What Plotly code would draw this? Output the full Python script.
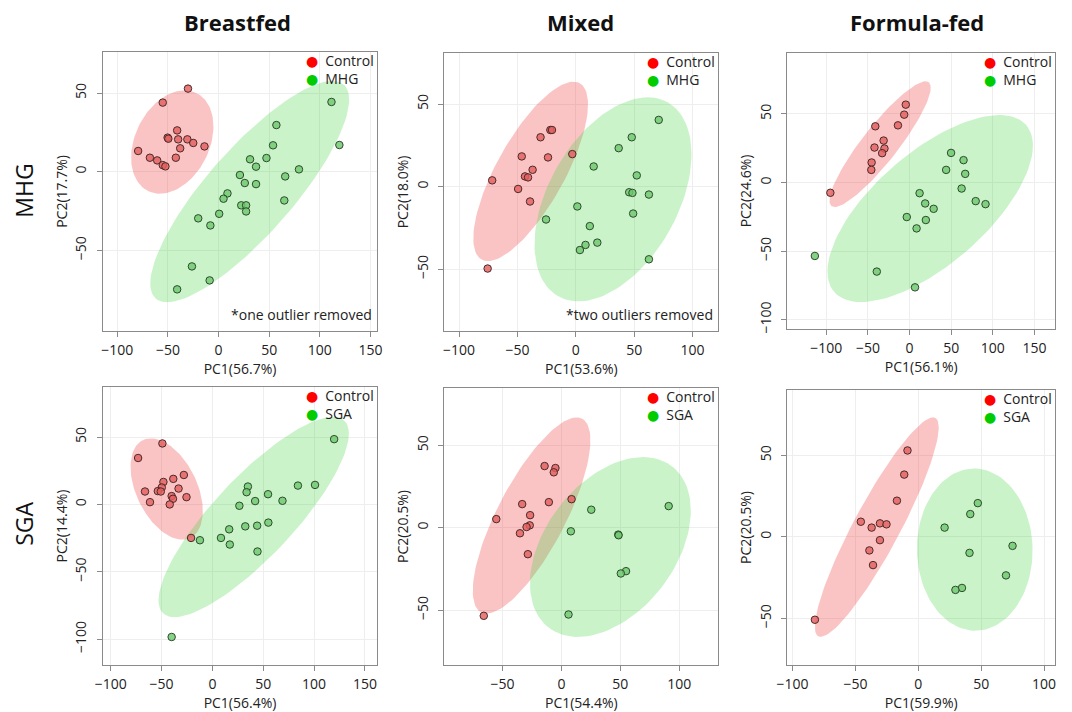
import numpy as np
import plotly.graph_objects as go

# ---------------- data (PC1, PC2 scores) ----------------
bf_mhg_ctrl_x = [-30.2, -55.1, -40.9, -50.3, -49.6, -39.9, -30.8, -25.0, -37.9, -13.9, -79.4, -67.8, -60.6, -42.2, -55.1, -52.5]
bf_mhg_ctrl_y = [52.9, 44.0, 26.3, 21.7, 21.0, 20.6, 20.6, 18.3, 14.9, 16.1, 13.2, 8.9, 7.2, 8.9, 4.2, 3.4]
bf_mhg_case_x = [111.5, 57.1, 119.3, 53.8, 31.1, 47.3, 37.0, 79.4, 21.1, 65.8, 25.9, 37.0, 8.8, 4.9, 64.9, 22.4, 27.2, 27.2, 0.6, -20.1, -8.1, -26.3, -8.8, -40.9]
bf_mhg_case_y = [44.4, 29.7, 17.0, 16.8, 7.9, 8.7, 3.2, 1.5, -2.1, -3.0, -7.2, -7.9, -13.8, -17.2, -18.3, -21.4, -21.4, -25.3, -26.8, -29.7, -34.2, -60.3, -69.2, -74.9]

mx_mhg_ctrl_x = [-21.8, -20.4, -30.2, -46.3, -23.8, -3.0, -37.0, -43.5, -40.9, -71.6, -49.4, -39.2, -75.5]
mx_mhg_ctrl_y = [34.3, 34.3, 29.9, 18.3, 17.7, 19.7, 10.2, 6.2, 5.6, 3.8, -1.4, -9.0, -49.6]
mx_mhg_case_x = [71.0, 47.9, 36.7, 15.3, 52.2, 45.7, 48.5, 62.6, 1.3, 49.1, -25.5, 12.0, 18.4, 8.3, 3.5, 62.6]
mx_mhg_case_y = [40.4, 29.9, 23.3, 12.2, 6.8, -3.4, -3.8, -4.8, -12.0, -16.3, -19.9, -23.9, -33.9, -35.3, -38.4, -44.0]

ff_mhg_ctrl_x = [-4.6, -6.5, -41.2, -14.0, -31.2, -42.2, -30.2, -33.0, -45.6, -46.0, -95.2]
ff_mhg_ctrl_y = [56.8, 49.5, 41.0, 41.7, 30.6, 25.5, 24.8, 21.4, 14.6, 9.2, -7.5]
ff_mhg_case_x = [49.8, 64.8, 43.9, 66.8, 62.5, 12.0, 79.4, 91.2, 18.7, 28.9, -3.4, 19.5, 8.4, -113.8, -39.4, 6.5]
ff_mhg_case_y = [21.6, 16.3, 9.2, 6.3, -4.4, -7.8, -13.6, -15.8, -15.3, -19.2, -25.2, -27.4, -33.5, -53.6, -65.0, -76.5]

bf_sga_ctrl_x = [-49.2, -73.1, -28.1, -38.5, -48.2, -33.3, -49.8, -53.7, -50.8, -66.3, -40.1, -38.8, -25.5, -61.4, -42.0, -21.0]
bf_sga_ctrl_y = [45.3, 34.5, 21.9, 19.0, 16.7, 11.8, 12.6, 9.9, 9.6, 9.6, 6.2, 4.2, 5.4, 1.7, 0.0, -24.9]
bf_sga_case_x = [119.7, 84.1, 100.9, 34.9, 33.6, 54.7, 42.0, 68.9, 26.5, 55.0, 44.0, 32.3, 16.5, -12.3, 8.4, 17.1, 44.3, -40.1]
bf_sga_case_y = [48.5, 14.0, 14.5, 13.3, 9.1, 7.6, 2.5, 2.7, -1.0, -13.5, -15.8, -16.3, -18.5, -26.6, -24.9, -29.8, -35.0, -98.5]

mx_sga_ctrl_x = [-14.3, -5.1, -6.5, -33.3, -10.7, 8.6, -26.6, -55.3, -26.9, -29.6, -35.2, -28.5, -65.9]
mx_sga_ctrl_y = [37.4, 36.2, 33.6, 14.3, 15.5, 17.3, 7.6, 5.2, 1.4, 0.4, -3.4, -16.1, -53.5]
mx_sga_case_x = [91.0, 25.3, 8.0, 48.2, 48.5, 54.8, 50.4, 6.0]
mx_sga_case_y = [13.1, 10.9, -2.2, -4.2, -4.6, -26.4, -27.8, -52.7]

ff_sga_ctrl_x = [-8.6, -11.2, -17.0, -45.7, -30.5, -25.3, -37.1, -30.5, -38.9, -36.0, -82.2]
ff_sga_ctrl_y = [53.0, 38.2, 22.2, 9.3, 8.3, 7.7, 5.7, -2.0, -8.3, -17.3, -50.8]
ff_sga_case_x = [47.3, 41.3, 20.9, 74.9, 40.7, 69.7, 34.7, 29.5]
ff_sga_case_y = [20.7, 14.0, 5.7, -5.5, -9.8, -23.6, -31.3, -32.5]

column_titles = ["Breastfed", "Mixed", "Formula-fed"]
row_titles = ["MHG", "SGA"]
pc1_labels = ["PC1(56.7%)", "PC1(53.6%)", "PC1(56.1%)", "PC1(56.4%)", "PC1(54.4%)", "PC1(59.9%)"]
pc2_labels = ["PC2(17.7%)", "PC2(18.0%)", "PC2(24.6%)", "PC2(14.4%)", "PC2(20.5%)", "PC2(20.5%)"]
case_names = ["MHG", "MHG", "MHG", "SGA", "SGA", "SGA"]
notes = ["*one outlier removed", "*two outliers removed", "", "", "", ""]
x_ticks = [[-100, -50, 0, 50, 100, 150], [-100, -50, 0, 50, 100], [-100, -50, 0, 50, 100, 150],
           [-100, -50, 0, 50, 100, 150], [-50, 0, 50, 100], [-100, -50, 0, 50, 100]]
y_ticks = [[-50, 0, 50], [-50, 0, 50], [-100, -50, 0, 50],
           [-100, -50, 0, 50], [-50, 0, 50], [-50, 0, 50]]

panels = [
    (bf_mhg_ctrl_x, bf_mhg_ctrl_y, bf_mhg_case_x, bf_mhg_case_y),
    (mx_mhg_ctrl_x, mx_mhg_ctrl_y, mx_mhg_case_x, mx_mhg_case_y),
    (ff_mhg_ctrl_x, ff_mhg_ctrl_y, ff_mhg_case_x, ff_mhg_case_y),
    (bf_sga_ctrl_x, bf_sga_ctrl_y, bf_sga_case_x, bf_sga_case_y),
    (mx_sga_ctrl_x, mx_sga_ctrl_y, mx_sga_case_x, mx_sga_case_y),
    (ff_sga_ctrl_x, ff_sga_ctrl_y, ff_sga_case_x, ff_sga_case_y),
]

# ---------------- layout geometry (pixels) ----------------
W, H = 1072, 712
boxes = [(93, 372, 52, 333), (440, 718, 53, 333), (788, 1060, 53, 331),
         (93, 372, 389, 669), (440, 718, 390, 669), (788, 1060, 392, 669)]
x_ranges = [(-114.5, 156.9), (-112.5, 122.0), (-147, 174.9),
            (-108, 162.3), (-99.3, 133.1), (-104.2, 108.8)]
y_ranges = [(-101.5, 76.4), (-87.5, 81.1), (-107, 94.7),
            (-119.5, 87.4), (-83.5, 84.9), (-78.7, 90.2)]

FONT = "Open Sans, Noto Sans, DejaVu Sans, sans-serif"
RED_FILL = "rgba(240,60,60,0.30)"
GREEN_FILL = "rgba(60,210,60,0.27)"
RED_PT = "rgba(228,95,95,0.82)"
GREEN_PT = "rgba(110,200,110,0.82)"


def conf_ellipse(x, y, n=120, k=2.4477):
    x = np.asarray(x, float)
    y = np.asarray(y, float)
    cov = np.cov(x, y)
    vals, vecs = np.linalg.eigh(cov)
    t = np.linspace(0, 2 * np.pi, n)
    circ = np.vstack([np.cos(t), np.sin(t)]) * (k * np.sqrt(vals))[:, None]
    pts = vecs @ circ
    return pts[0] + x.mean(), pts[1] + y.mean()


fig = go.Figure()
layout = dict(width=W, height=H, margin=dict(l=0, r=0, t=0, b=0),
              plot_bgcolor="white", paper_bgcolor="white",
              font=dict(family=FONT, color="#222"), showlegend=False)
annotations = []

for i, (cx, cy, gx, gy) in enumerate(panels):
    k = i + 1
    xa = "x" if k == 1 else f"x{k}"
    ya = "y" if k == 1 else f"y{k}"
    l, r, t, b = boxes[i]
    dx = [l / W, r / W]
    dy = [1 - b / H, 1 - t / H]

    ex, ey = conf_ellipse(cx, cy)
    fig.add_trace(go.Scatter(x=ex, y=ey, xaxis=xa, yaxis=ya, mode="lines", fill="toself",
                             fillcolor=RED_FILL, line=dict(width=0), hoverinfo="skip"))
    ex, ey = conf_ellipse(gx, gy)
    fig.add_trace(go.Scatter(x=ex, y=ey, xaxis=xa, yaxis=ya, mode="lines", fill="toself",
                             fillcolor=GREEN_FILL, line=dict(width=0), hoverinfo="skip"))
    fig.add_trace(go.Scatter(x=cx, y=cy, xaxis=xa, yaxis=ya, mode="markers",
                             marker=dict(size=7.5, color=RED_PT, line=dict(color="#4a2a2a", width=1)),
                             name="Control"))
    fig.add_trace(go.Scatter(x=gx, y=gy, xaxis=xa, yaxis=ya, mode="markers",
                             marker=dict(size=7.5, color=GREEN_PT, line=dict(color="#2e4a2e", width=1)),
                             name=case_names[i]))

    axcommon = dict(showline=True, linecolor="#8a8a8a", linewidth=1, mirror=True,
                    ticks="outside", ticklen=5, tickcolor="#8a8a8a",
                    showgrid=True, gridcolor="#eeeeee", gridwidth=1, zeroline=False,
                    tickfont=dict(size=14, color="#222"))
    layout["xaxis" if k == 1 else f"xaxis{k}"] = dict(
        axcommon, domain=dx, anchor=ya, range=list(x_ranges[i]), tickvals=x_ticks[i],
        ticklabelstandoff=1,
        title=dict(text=pc1_labels[i], font=dict(size=14, color="#222"), standoff=0))
    layout["yaxis" if k == 1 else f"yaxis{k}"] = dict(
        axcommon, domain=dy, anchor=xa, range=list(y_ranges[i]), tickvals=y_ticks[i], tickangle=-90,
        ticklabelstandoff=5,
        title=dict(text=pc2_labels[i], font=dict(size=14, color="#222"), standoff=0))

    # legend (top-right inside each panel)
    annotations.append(dict(xref="paper", yref="paper", x=(r - 1) / W, y=1 - (t + 18) / H,
                            xanchor="right", yanchor="middle", align="left", showarrow=False,
                            text=(f"<span style='color:#ff0000'>●</span>&#8194;Control<br>"
                                  f"<span style='color:#00cc00'>●</span>&#8194;{case_names[i]}"),
                            font=dict(size=14, color="#222")))
    if notes[i]:
        annotations.append(dict(xref="paper", yref="paper", x=(r - 3) / W, y=1 - (b - 5) / H,
                                xanchor="right", yanchor="bottom", showarrow=False,
                                text=notes[i], font=dict(size=14, color="#222")))

col_centers = [230, 578, 920]
for c, txt in zip(col_centers, column_titles):
    annotations.append(dict(xref="paper", yref="paper", x=c / W, y=1 - 22 / H, xanchor="center",
                            yanchor="middle", showarrow=False, text=f"<b>{txt}</b>",
                            font=dict(size=22, color="#111")))
row_centers = [192, 527]
for rc, txt in zip(row_centers, row_titles):
    annotations.append(dict(xref="paper", yref="paper", x=13 / W, y=1 - rc / H, xanchor="center",
                            yanchor="middle", showarrow=False, text=txt, textangle=-90,
                            font=dict(size=23, color="#111")))

layout["annotations"] = annotations
fig.update_layout(**layout)
fig.write_html("out.html", config={"displayModeBar": False},
               post_script="document.body.style.margin='0';")
